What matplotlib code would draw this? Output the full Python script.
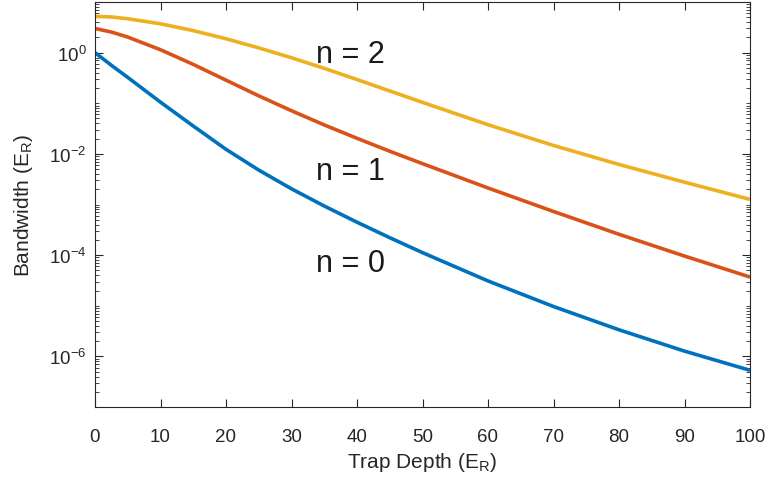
import matplotlib
matplotlib.use("Agg")
import matplotlib.pyplot as plt
from matplotlib.ticker import LogLocator, FixedLocator, NullFormatter, LogFormatterMathtext

plt.rcParams["font.family"] = ["Liberation Sans", "DejaVu Sans"]
plt.rcParams["mathtext.fontset"] = "custom"
plt.rcParams["mathtext.rm"] = "Liberation Sans"
plt.rcParams["mathtext.it"] = "Liberation Sans:italic"
plt.rcParams["mathtext.bf"] = "Liberation Sans:bold"

# trap depth (E_R)
depth = [0, 2.5, 5, 10, 15, 20, 25, 30, 35, 40, 45, 50, 60, 70, 80, 90, 100]
band_n0 = [1.0, 0.562, 0.324, 0.105, 0.0355, 0.0123, 4.79e-3, 2.04e-3, 9.33e-4,
           4.47e-4, 2.21e-4, 1.12e-4, 3.09e-5, 9.66e-6, 3.35e-6, 1.27e-6, 5.31e-7]
band_n1 = [3.0, 2.55, 2.03, 1.14, 0.585, 0.286, 0.140, 0.0711, 0.0373,
           0.0203, 0.01127, 6.41e-3, 2.12e-3, 7.28e-4, 2.58e-4, 9.59e-5, 3.69e-5]
band_n2 = [5.2, 5.06, 4.67, 3.71, 2.72, 1.88, 1.24, 0.792, 0.489,
           0.294, 0.175, 0.104, 0.0377, 0.01466, 6.18e-3, 2.76e-3, 1.26e-3]

labels = ["n = 0", "n = 1", "n = 2"]
label_x = [39, 39, 39]
label_y = [4.8e-5, 3.2e-3, 0.65]

colors = ["#0072BD", "#D95319", "#EDB120"]

fig = plt.figure(figsize=(7.68, 4.85), dpi=100)
ax = fig.add_axes([95 / 768, 77 / 485, 655 / 768, 405 / 485])

for ys, c in zip([band_n0, band_n1, band_n2], colors):
    ax.plot(depth, ys, color=c, lw=2.6, solid_capstyle="butt")

for t, x, y in zip(labels, label_x, label_y):
    ax.text(x, y, t, fontsize=22, color="#1a1a1a", ha="center", va="baseline")

ax.set_yscale("log")
ax.set_xlim(0, 100)
ax.set_ylim(1e-7, 10)
ax.set_xticks(range(0, 101, 10))
ax.yaxis.set_major_locator(FixedLocator([1e-6, 1e-4, 1e-2, 1e0]))
ax.yaxis.set_major_formatter(LogFormatterMathtext())
ax.yaxis.set_minor_locator(LogLocator(base=10, subs=range(1, 10), numticks=20))
ax.yaxis.set_minor_formatter(NullFormatter())

dark = "#262626"
for s in ax.spines.values():
    s.set_color(dark)
    s.set_linewidth(0.8)
ax.tick_params(which="both", direction="in", top=True, right=True, colors=dark,
               labelsize=13.5)
ax.tick_params(which="major", length=6, width=0.8)
ax.tick_params(which="minor", length=3, width=0.6)
ax.tick_params(axis="x", pad=15)
ax.tick_params(axis="y", pad=6)

ax.set_xlabel("Trap Depth (E$_\\mathregular{R}$)", fontsize=15, color=dark, labelpad=4)
ax.set_ylabel("Bandwidth (E$_\\mathregular{R}$)", fontsize=15, color=dark, labelpad=10)

fig.savefig("out.png", dpi=100)
